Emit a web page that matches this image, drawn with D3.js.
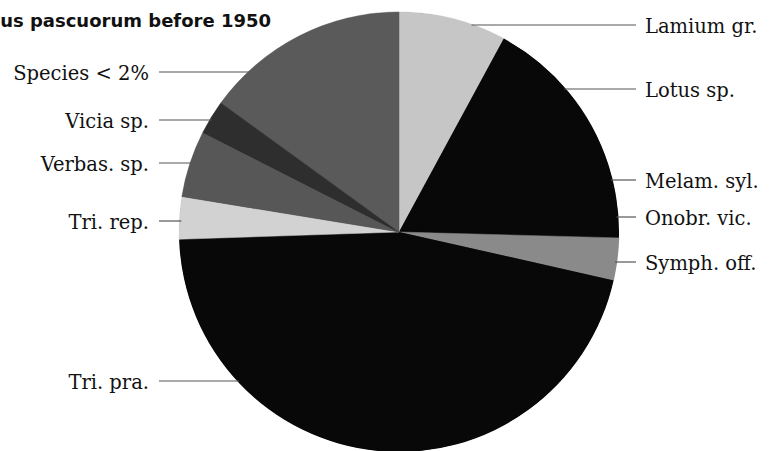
<!DOCTYPE html>
<html>
<head>
<meta charset="utf-8">
<script src="https://cdn.jsdelivr.net/npm/d3@7"></script>
<style>
  html, body { margin: 0; padding: 0; background: #fff; }
  svg { display: block; }
</style>
</head>
<body>
<svg id="chart" width="777" height="451"></svg>
<script>
// ---- data (percent of pollen loads), clockwise from 12 o'clock ----
const species = ["Lamium gr.", "Lotus sp.", "Melam. syl.", "Onobr. vic.", "Symph. off.",
                 "Tri. pra.", "Tri. rep.", "Verbas. sp.", "Vicia sp.", "Species < 2%"];
const shares  = [7.9, 12.1, 2.3, 3.1, 3.1, 45.9, 3.1, 4.9, 2.5, 15.0];
const title = "Bombus pascuorum before 1950";

// ---- styling / layout (kept separate from data) ----
const baseBlack = "#080808";
const fills = ["#c6c6c6", baseBlack, baseBlack, baseBlack, "#8a8a8a",
               baseBlack, "#d2d2d2", "#575757", "#2e2e2e", "#5a5a5a"];
const labelSide = ["right", "right", "right", "right", "right",
                   "left", "left", "left", "left", "left"];
const labelY = [25, 89, 180, 217, 262, 381, 221, 163, 120, 72];

const svg = d3.select("#chart");
const cx = 399, cy = 232, r = 220;

const pie = d3.pie().sort(null).value(d => d.v).startAngle(0).endAngle(2 * Math.PI);
const arc = d3.arc().innerRadius(0).outerRadius(r);

const rows = species.map((s, i) => ({ name: s, v: shares[i], fill: fills[i], side: labelSide[i], ly: labelY[i] }));

const g = svg.append("g").attr("transform", `translate(${cx},${cy})`);
// base disc hides anti-aliasing seams between same-coloured slices
g.append("circle").attr("r", r - 0.5).attr("fill", baseBlack);
g.selectAll("path.slice")
  .data(pie(rows))
  .join("path")
  .attr("class", "slice")
  .attr("d", arc)
  .attr("fill", d => d.data.fill)
  .attr("stroke", d => d.data.fill === baseBlack ? "none" : d.data.fill)
  .attr("stroke-width", 0.5);

// leader lines and labels
const labelFont = "'DejaVu Serif', serif";
const fs = 19.5;
rows.forEach(d => {
  const dy = d.ly - cy;
  const dx = Math.sqrt(Math.max(0, r * r - dy * dy));
  if (d.side === "right") {
    const x0 = cx + dx - 2;
    svg.append("line")
      .attr("x1", x0).attr("x2", 636).attr("y1", d.ly).attr("y2", d.ly)
      .attr("stroke", "#555").attr("stroke-width", 1.2);
    svg.append("text")
      .attr("x", 645).attr("y", d.ly + 7.5)
      .attr("font-family", labelFont).attr("font-size", fs)
      .attr("fill", "#111")
      .text(d.name);
  } else {
    const x1 = cx - dx + 2;
    svg.append("line")
      .attr("x1", 159).attr("x2", x1).attr("y1", d.ly).attr("y2", d.ly)
      .attr("stroke", "#555").attr("stroke-width", 1.2);
    svg.append("text")
      .attr("x", 149).attr("y", d.ly + 7.5)
      .attr("text-anchor", "end")
      .attr("font-family", labelFont).attr("font-size", fs)
      .attr("fill", "#111")
      .text(d.name);
  }
});

// title (the reference crops its beginning at the left edge)
svg.append("text")
  .attr("x", 271).attr("y", 27)
  .attr("text-anchor", "end")
  .attr("font-family", "'DejaVu Sans', sans-serif")
  .attr("font-weight", "bold")
  .attr("font-size", 18)
  .attr("fill", "#111")
  .text(title);
</script>
</body>
</html>
